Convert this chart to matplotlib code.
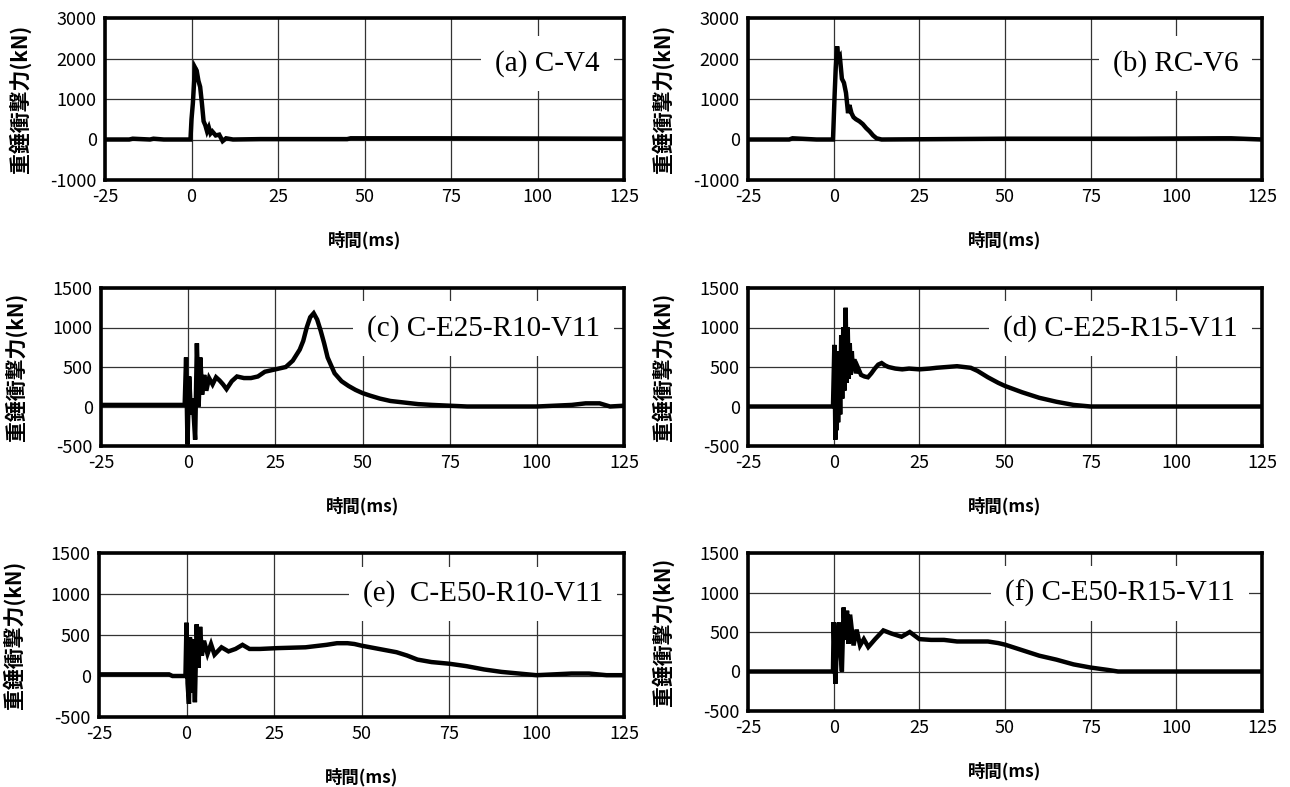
import matplotlib
matplotlib.use("Agg")
import matplotlib.pyplot as plt

plt.rcParams['font.family'] = ['Noto Sans CJK JP', 'DejaVu Sans']
plt.rcParams['axes.unicode_minus'] = False

W, H = 1290, 787

# ---- data (time in ms, impact force in kN) ----
t_a = [-25, -18, -17, -12, -11, -8, -0.3, 0.0, 0.4, 1.0, 1.5, 2.0, 2.5, 3.0, 3.5, 4.0, 4.5,
       5.0, 5.5, 6.0, 7.0, 8.0, 9.0, 10.0, 12.0, 20, 45, 46, 70, 125]
f_a = [0, 0, 20, 0, 20, 0, 0, 500, 900, 1780, 1700, 1450, 1300, 900, 450, 350, 200,
       300, 150, 200, 100, 120, -40, 30, 0, 10, 10, 30, 30, 20]

t_b = [-25, -13, -12, -5, -0.2, 0.0, 0.3, 0.6, 1.0, 1.4, 1.8, 2.4, 3.0, 3.6, 4.2, 4.6, 5.2,
       5.8, 6.5, 7.5, 8.5, 9.5, 10.5, 11.5, 12.5, 14, 50, 88, 113, 116, 125]
f_b = [0, 0, 30, 0, 0, 450, 1150, 1750, 2300, 2000, 2050, 1500, 1400, 1150, 650, 850, 650,
       550, 500, 450, 380, 280, 200, 100, 30, 0, 20, 20, 30, 30, 0]

t_c = [-25, -10, -1.0, -0.6, -0.2, 0.3, 0.8, 1.3, 2.0, 2.5, 3.0, 3.5, 4.0, 4.6, 5.2,
       6.0, 7.0, 8.0, 9.0, 10.0, 11.0, 12.5, 14.0, 16.0, 18.0, 20.0, 22.0, 25.0, 28.0,
       30.0, 32.0, 33.0, 34.0, 35.0, 36.0, 37.0, 38.0, 39.0, 40.0, 42.0, 44.0, 46.0,
       48.0, 50.0, 52.0, 55.0, 58.0, 62.0, 66.0, 70.0, 80.0, 90.0, 100.0, 110.0,
       114.0, 118.0, 121.0, 125.0]
f_c = [20, 20, 20, 620, -480, 380, -100, 100, -420, 800, 0, 620, 150, 400, 200,
       360, 280, 370, 330, 280, 220, 320, 380, 360, 360, 380, 440, 470, 500,
       580, 720, 830, 1000, 1130, 1180, 1100, 960, 800, 620, 420, 320, 260,
       210, 170, 140, 100, 70, 50, 30, 20, 0, 0, 0, 20, 40, 40, 0, 10]

t_d = [-25, -10, -0.2, 0.2, 0.5, 0.7, 0.9, 1.1, 1.3, 1.6, 1.9, 2.2, 2.5, 2.8, 3.1, 3.5,
       3.8, 4.1, 4.4, 4.7, 5.0, 5.3, 5.6, 6.0, 6.5, 7.0, 8.0, 9.0, 10.0, 11.0, 12.0,
       13.0, 14.0, 15.0, 16.0, 18.0, 20.0, 22.0, 25.0, 28.0, 30.0, 33.0, 36.0, 38.0,
       40.0, 42.0, 45.0, 48.0, 50.0, 55.0, 60.0, 65.0, 70.0, 75.0, 125.0]
f_d = [0, 0, 0, 780, -420, 600, -300, 500, -200, 700, -100, 900, 100, 1000, 200, 1250,
       300, 1000, 350, 800, 400, 700, 450, 600, 420, 500, 400, 380, 370, 420, 480,
       530, 550, 520, 500, 480, 470, 480, 470, 480, 490, 500, 510, 500,
       490, 450, 370, 300, 260, 180, 110, 60, 20, 0, 0]

t_e = [-25, -5, -4, -0.3, 0.0, 0.3, 0.7, 1.0, 1.4, 1.8, 2.4, 2.9, 3.4, 3.9, 4.4, 5.0,
       6.0, 7.0, 8.0, 10.0, 12.0, 14.0, 16.0, 18.0, 21.0, 26.0, 34.0, 40.0, 43.0,
       46.0, 48.0, 50.0, 55.0, 60.0, 63.0, 66.0, 70.0, 75.0, 80.0, 85.0, 90.0, 95.0,
       100.0, 105.0, 110.0, 115.0, 120.0, 125.0]
f_e = [20, 20, 0, 0, 650, -90, -340, 470, -200, 450, -320, 630, 100, 600, 250, 430,
       270, 390, 260, 350, 300, 330, 380, 330, 330, 340, 350, 380, 400,
       400, 390, 370, 330, 290, 250, 200, 170, 150, 120, 80, 50, 30,
       10, 20, 30, 30, 10, 10]

t_f = [-25, -0.2, 0.0, 0.5, 1.0, 1.5, 2.0, 2.4, 2.9, 3.4, 3.9, 4.3, 4.8, 5.8, 6.7, 7.7,
       8.8, 10.1, 12.1, 14.5, 16.9, 19.8, 22.2, 25.0, 28.4, 32.2, 36.0, 40.0, 45.0,
       48.0, 50.0, 55.0, 60.0, 65.0, 70.0, 75.0, 80.0, 83.0, 125.0]
f_f = [0, 0, 625, -155, 400, 620, 250, 0, 810, 400, 770, 350, 720, 330, 530, 330,
       410, 310, 410, 520, 480, 440, 500, 410, 400, 400, 380, 380, 380,
       360, 340, 270, 200, 150, 90, 50, 20, 0, 0]

labels = ["(a) C-V4", "(b) RC-V6", "(c) C-E25-R10-V11", "(d) C-E25-R15-V11",
          "(e)  C-E50-R10-V11", "(f) C-E50-R15-V11"]
series = [(t_a, f_a), (t_b, f_b), (t_c, f_c), (t_d, f_d), (t_e, f_e), (t_f, f_f)]

x_ticks = [-25, 0, 25, 50, 75, 100, 125]
y_ticks_top = [-1000, 0, 1000, 2000, 3000]
y_ticks_low = [-500, 0, 500, 1000, 1500]

# axes boxes in pixels: left, top, right, bottom
boxes = [(105, 18, 624, 180), (748, 18, 1262, 180),
         (101, 288, 624, 446), (748, 288, 1262, 446),
         (99, 553, 624, 717), (748, 553, 1262, 711)]
# label anchor (time, force) for the right end of each panel label
label_pos = [(118, 1870), (118, 1870), (118, 990), (118, 990), (119, 1000), (117, 990)]

fig = plt.figure(figsize=(W / 100, H / 100), dpi=100)

for i, ((t, f), lab, (l, tp, r, b)) in enumerate(zip(series, labels, boxes)):
    ax = fig.add_axes([l / W, 1 - b / H, (r - l) / W, (b - tp) / H])
    ax.plot(t, f, color="black", lw=3.2, solid_joinstyle="miter", zorder=3)
    ax.set_xlim(-25, 125)
    yt = y_ticks_top if i < 2 else y_ticks_low
    ax.set_ylim(yt[0], yt[-1])
    ax.set_xticks(x_ticks)
    ax.set_yticks(yt)
    ax.grid(True, color="#333333", lw=0.9, zorder=0)
    ax.set_axisbelow(True)
    ax.tick_params(length=0, labelsize=13, pad=6)
    for s in ax.spines.values():
        s.set_linewidth(2.6)
    tx, ty = label_pos[i]
    ax.text(tx, ty, lab, ha="right", va="center", fontsize=21,
            family=["Liberation Serif", "DejaVu Serif"], zorder=2,
            bbox=dict(facecolor="white", edgecolor="none", pad=10))
    xc = (l + r) / 2
    fig.text(xc / W, 1 - (b + 60) / H, "時間(ms)", ha="center", va="center",
             fontsize=12.5, fontweight="bold")
    fig.text((l - 85) / W, 1 - ((tp + b) / 2) / H, "重錘衝撃力(kN)", ha="center",
             va="center", rotation=90, fontsize=15, fontweight="bold")

fig.savefig("out.png", dpi=100)
